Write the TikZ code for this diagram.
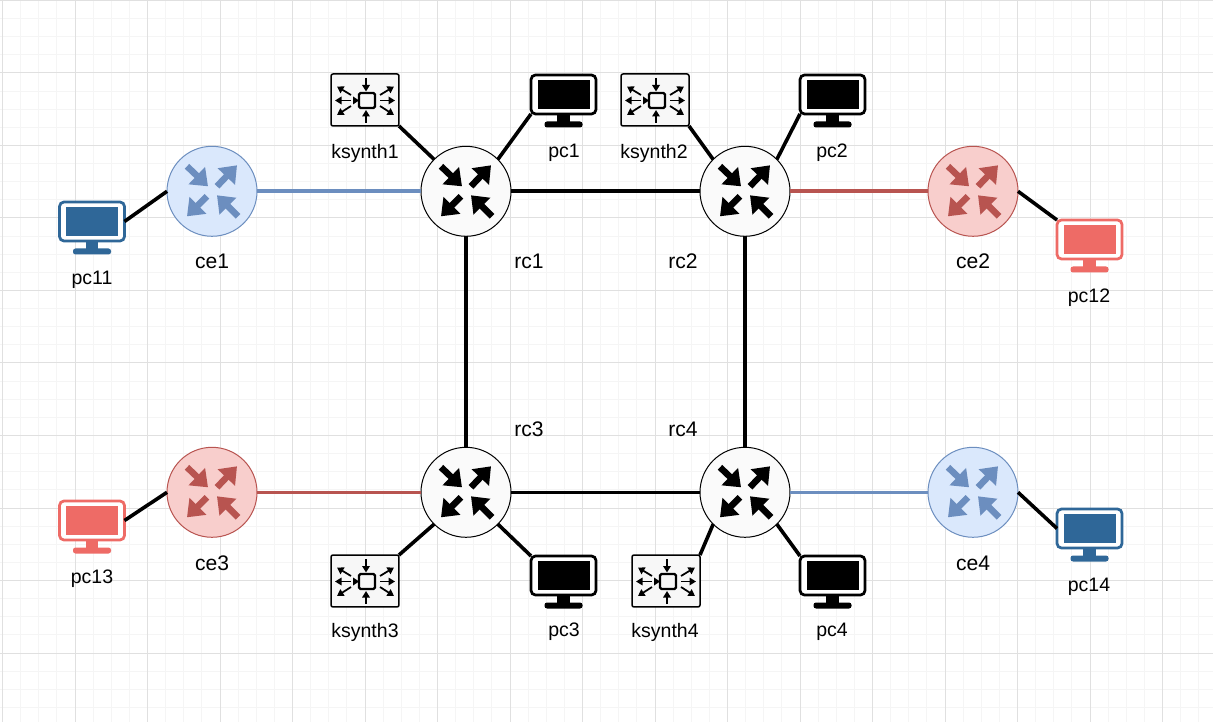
\documentclass[tikz,border=0pt]{standalone}
\usepackage{fontspec}
\setmainfont{Liberation Sans}
\usetikzlibrary{arrows.meta}
\definecolor{bluefill}{HTML}{DAE8FC}
\definecolor{blueline}{HTML}{6C8EBF}
\definecolor{redfill}{HTML}{F8CECC}
\definecolor{redline}{HTML}{B85450}
\definecolor{bluepc}{HTML}{2F6798}
\definecolor{redpc}{HTML}{EE6B66}
\tikzset{
  router/.style={circle, draw=#1, line width=0.02cm, minimum size=1.8cm, inner sep=0pt, outer sep=0pt},
  monitor/.style={rectangle, draw=#1, fill=white, line width=0.055cm, rounded corners=0.09cm,
    minimum width=1.3cm, minimum height=0.78cm, inner sep=0pt, outer sep=0pt},
  synth/.style={rectangle, draw=black, fill=white!97!black, line width=0.03cm, rounded corners=0.04cm,
    minimum width=1.36cm, minimum height=1.04cm, inner sep=0pt, outer sep=0pt},
  link/.style={line width=0.072cm},
  lbl/.style={font=\fontsize{11.1pt}{13pt}\selectfont, inner sep=0pt},
  biglbl/.style={font=\fontsize{12pt}{14pt}\selectfont, inner sep=0pt},
  minorgrid/.style={draw=black!4, line width=0.02cm},
  majorgrid/.style={draw=black!12, line width=0.02cm},
  pics/routerarrows/.style={code={
    \begin{scope}[line width=0.13cm, draw=#1, -{Triangle[length=0.31cm,width=0.46cm,fill=#1]}]
      \draw (-25,-25) -- (-4,-5);
      \draw (5,-5) -- (25,-26);
      \draw (-5,5) -- (-25,25);
      \draw (26,25) -- (5,4);
    \end{scope}
  }},
  pics/pcicon/.style={code={
    \fill[#1] (-26,-14.5) rectangle (26,14.5);
    \fill[#1] (-6.3,19) rectangle (6.3,30);
    \fill[#1, rounded corners=0.05cm] (-19,27) rectangle (19,33);
  }},
  pics/synthicon/.style={code={
    \draw[line width=0.045cm, rounded corners=0.03cm, fill=white!97!black] (-6,-7) rectangle (10,8);
    \fill (-6,0.5) -- (-12,-3.5) -- (-12,4.5) -- cycle;
    \begin{scope}[line width=0.035cm, -{Triangle[length=0.13cm,width=0.15cm]}]
      \draw (1,-22) -- (1,-8.5);
      \draw (1,23) -- (1,10);
      \draw (-14,0.5) -- (-30,0.5);
      \draw (15,0.5) -- (30,0.5);
      \draw (-14,-5) -- (-28,-13.5);
      \draw (15,-5) -- (29,-13.5);
      \draw (-14,6) -- (-28,15);
      \draw (15,6) -- (29,15);
    \end{scope}
  }}
}
\begin{document}
\begin{tikzpicture}[x=0.02cm, y=-0.02cm]
\useasboundingbox (0,0) rectangle (1213,722);
\fill[white] (0,0) rectangle (1213,722);
% Background grid
\foreach \i in {0,...,67} {
  \draw[minorgrid] ({2.5+18.125*\i},0) -- ({2.5+18.125*\i},722);
}
\foreach \i in {0,...,39} {
  \draw[minorgrid] (0,{0.5+18.125*\i}) -- (1213,{0.5+18.125*\i});
}
\foreach \i in {0,...,16} {
  \draw[majorgrid] ({2.5+72.5*\i},0) -- ({2.5+72.5*\i},722);
}
\foreach \i in {0,...,9} {
  \draw[majorgrid] (0,{0.5+72.5*\i}) -- (1213,{0.5+72.5*\i});
}
% Core routers
\foreach \name/\x/\y in {rc1/466/191.3, rc2/745/191.3, rc3/466/492.3, rc4/745/492.3} {
  \node [router=black, fill=white!98!black] (\name) at (\x,\y) {};
  \pic at (\x,\y) {routerarrows=black};
}
% Edge routers
\foreach \name/\x/\y in {ce1/212/191.3, ce4/973/492.3} {
  \node [router=blueline, fill=bluefill] (\name) at (\x,\y) {};
  \pic at (\x,\y) {routerarrows=blueline};
}
\foreach \name/\x/\y in {ce2/973/191.3, ce3/212/492.3} {
  \node [router=redline, fill=redfill] (\name) at (\x,\y) {};
  \pic at (\x,\y) {routerarrows=redline};
}
% Monitors
\foreach \name/\x/\y/\col in {pc1/563.5/94.5/black, pc2/832.5/94.5/black, pc3/563.5/575.5/black, pc4/832.5/575.5/black,
  pc11/92/221.5/bluepc, pc14/1089.5/528.5/bluepc, pc12/1089.5/239.5/redpc, pc13/92/520.5/redpc} {
  \node [monitor=\col] (\name) at (\x,\y) {};
  \pic at (\x,\y) {pcicon=\col};
}
% Synthesizers
\foreach \name/\x/\y in {ksynth1/365/100, ksynth2/655/100, ksynth3/365/581, ksynth4/666/581} {
  \node [synth] (\name) at (\x,\y) {};
  \pic at (\x,\y) {synthicon};
}
% Core ring
\draw [link] (rc1) -- (rc2);
\draw [link] (rc1) -- (rc3);
\draw [link] (rc2) -- (rc4);
\draw [link] (rc3) -- (rc4);
% Edge links
\draw [link, blueline] (rc1) -- (ce1);
\draw [link, redline] (rc2) -- (ce2);
\draw [link, redline] (rc3) -- (ce3);
\draw [link, blueline] (rc4) -- (ce4);
% Hosts on core routers
\draw [link] (ksynth1.south east) -- (rc1.135);
\draw [link] (pc1.south west) -- (rc1.45);
\draw [link] (ksynth2.south east) -- (rc2.135);
\draw [link] (pc2.south west) -- (rc2.45);
\draw [link] (ksynth3.north east) -- (rc3.225);
\draw [link] (pc3.north west) -- (rc3.-45);
\draw [link] (ksynth4.north east) -- (rc4.225);
\draw [link] (pc4.north west) -- (rc4.-45);
% Hosts on edge routers
\draw [link] (pc11.east) -- (ce1.west);
\draw [link] (pc12.north west) -- (ce2.east);
\draw [link] (pc13.east) -- (ce3.west);
\draw [link] (pc14.west) -- (ce4.east);
% Labels
\foreach \name/\x/\y/\txt in {ksynth1lbl/365/153/ksynth1, pc1lbl/564/153/pc1, ksynth2lbl/654/153/ksynth2, pc2lbl/832/153/pc2,
  pc11lbl/92/280/pc11, pc12lbl/1089/298/pc12, pc13lbl/92/579/pc13, pc14lbl/1089/587/pc14,
  ksynth3lbl/365/632/ksynth3, pc3lbl/564/632/pc3, ksynth4lbl/665/632/ksynth4, pc4lbl/832/632/pc4} {
  \node [lbl] (\name) at (\x,\y) {\txt};
}
\foreach \name/\x/\y/\txt in {ce1lbl/212/261/ce1, rc1lbl/529/261/rc1, rc2lbl/683/261/rc2, ce2lbl/973/261/ce2,
  rc3lbl/529/429/rc3, rc4lbl/683/429/rc4, ce3lbl/212/563/ce3, ce4lbl/973/563/ce4} {
  \node [biglbl] (\name) at (\x,\y) {\txt};
}
\end{tikzpicture}
\end{document}
